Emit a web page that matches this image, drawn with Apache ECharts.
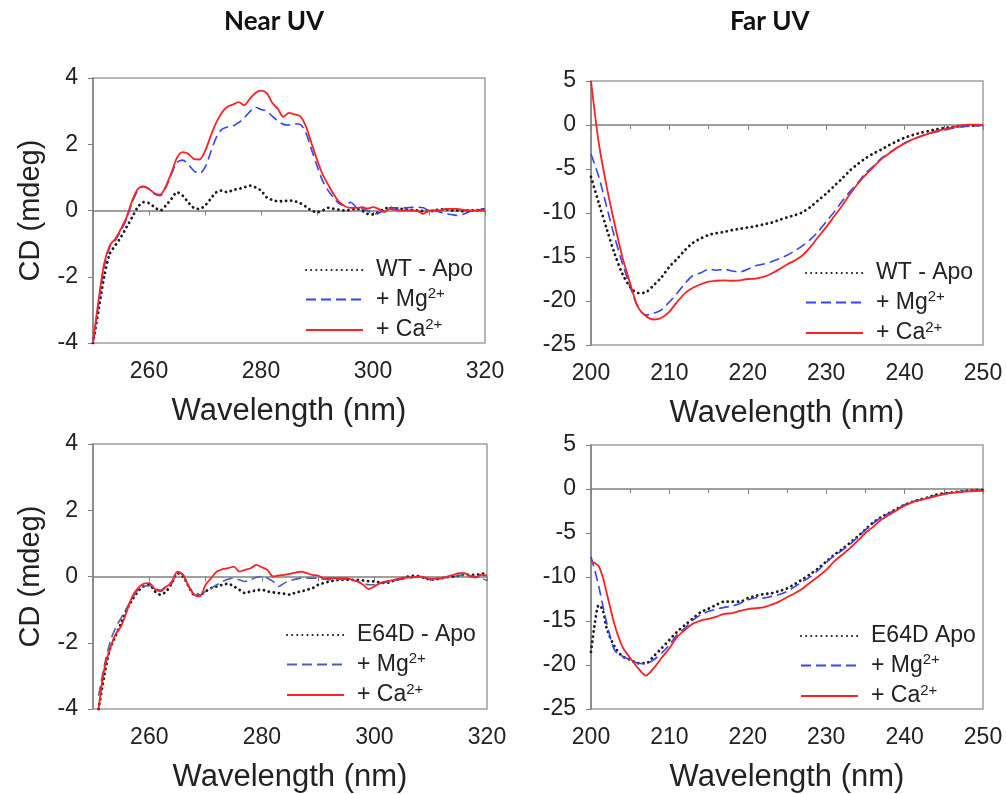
<!DOCTYPE html>
<html>
<head>
<meta charset="utf-8">
<script src="https://cdn.jsdelivr.net/npm/echarts@6/dist/echarts.min.js"></script>
<style>
  html, body { margin: 0; padding: 0; background: #fff; }
  #chart { width: 1006px; height: 794px; }
</style>
</head>
<body>
<div id="chart"></div>
<script>
// ---- Near UV (wavelength 250-320 nm) ----
var nearWtX = [250,251,252,253,254,255,256,257,258,259,260,261,262,263,264,265,266,267,268,269,270,271,272,273,274,275,276,277,278,279,280,281,282,283,284,285,286,287,288,289,290,291,292,293,294,295,296,297,298,299,300,301,302,303,304,305,306,307,308,309,310,311,312,313,314,315,316,317,318,319,320];
var nearWtApo = [-4,-3.0,-2.0,-1.3,-1.05,-0.8,-0.5,-0.2,0.1,0.25,0.22,0.1,0.0,0.15,0.35,0.55,0.45,0.25,0.08,0.05,0.15,0.35,0.55,0.6,0.55,0.62,0.65,0.7,0.75,0.7,0.6,0.4,0.32,0.28,0.28,0.3,0.28,0.22,0.12,0.0,-0.05,0.0,0.08,0.05,0.02,0.0,0.02,0.05,0.0,-0.1,-0.12,-0.05,0.05,0.08,0.06,0.05,0.03,0.02,0.0,-0.02,-0.03,0.0,0.03,0.03,0.0,0.0,-0.02,0.0,0.0,0.02,0.05];
var nearWtMg = [-4,-2.8,-1.7,-1.1,-0.9,-0.6,-0.25,0.25,0.6,0.72,0.65,0.5,0.45,0.7,1.1,1.45,1.52,1.4,1.2,1.12,1.3,1.75,2.2,2.45,2.52,2.55,2.65,2.8,2.98,3.12,3.05,3.0,2.85,2.7,2.6,2.58,2.62,2.6,2.35,1.85,1.35,0.9,0.6,0.38,0.2,0.15,0.25,0.1,0.05,0.0,-0.1,-0.08,0.0,0.08,0.08,0.08,0.08,0.1,0.1,0.08,0.0,0.0,-0.05,-0.1,-0.12,-0.15,-0.12,-0.05,0.0,0.02,0.05];
var nearWtCa = [-4,-2.7,-1.6,-1.05,-0.85,-0.55,-0.2,0.3,0.65,0.73,0.65,0.52,0.48,0.73,1.14,1.59,1.76,1.71,1.56,1.54,1.79,2.24,2.65,2.95,3.13,3.2,3.27,3.18,3.37,3.55,3.62,3.55,3.25,3.07,2.83,2.95,2.9,2.85,2.55,2.04,1.54,1.09,0.78,0.48,0.25,0.13,0.08,0.08,0.1,0.06,0.1,0.05,-0.05,0.05,0.02,0.0,0.0,0.0,-0.02,-0.1,0.0,0.0,0.0,0.05,0.05,0.05,0.02,0.0,0.0,0.0,0.0];

var nearE64X = [251,252,253,254,255,256,257,258,259,260,261,262,263,264,265,266,267,268,269,270,271,272,273,274,275,276,277,278,279,280,281,282,283,284,285,286,287,288,289,290,291,292,293,294,295,296,297,298,299,300,301,302,303,304,305,306,307,308,309,310,311,312,313,314,315,316,317,318,319,320];
var nearE64Apo = [-4,-3.0,-2.2,-1.8,-1.4,-1.0,-0.7,-0.45,-0.3,-0.25,-0.45,-0.55,-0.45,-0.2,0.1,0.0,-0.3,-0.55,-0.55,-0.45,-0.35,-0.3,-0.25,-0.22,-0.3,-0.4,-0.5,-0.45,-0.42,-0.4,-0.45,-0.48,-0.5,-0.52,-0.55,-0.48,-0.45,-0.4,-0.35,-0.25,-0.2,-0.15,-0.12,-0.1,-0.1,-0.1,-0.1,-0.12,-0.14,-0.15,-0.18,-0.2,-0.15,-0.1,-0.05,0.0,0.02,0.0,-0.05,-0.1,-0.08,-0.05,-0.02,0.0,0.03,0.05,0.05,0.05,0.08,0.1];
var nearE64Mg = [-3.6,-2.7,-2.0,-1.55,-1.25,-0.95,-0.65,-0.4,-0.3,-0.28,-0.35,-0.42,-0.3,-0.15,0.12,0.05,-0.3,-0.52,-0.55,-0.45,-0.35,-0.25,-0.15,-0.08,-0.05,-0.1,-0.15,-0.1,-0.02,0.0,-0.05,-0.15,-0.3,-0.2,-0.12,-0.08,-0.05,-0.05,-0.05,-0.05,-0.08,-0.1,-0.1,-0.08,-0.08,-0.1,-0.15,-0.2,-0.25,-0.25,-0.2,-0.18,-0.15,-0.1,-0.08,-0.05,-0.03,-0.02,-0.05,-0.1,-0.08,-0.05,-0.02,0.0,0.03,0.05,0.02,0.0,-0.05,-0.12];
var nearE64Ca = [-4,-2.8,-2.2,-1.75,-1.5,-1.05,-0.6,-0.35,-0.22,-0.2,-0.38,-0.45,-0.3,-0.2,0.15,0.05,-0.3,-0.55,-0.6,-0.25,-0.05,0.15,0.22,0.25,0.3,0.15,0.2,0.25,0.35,0.28,0.2,0.0,0.03,0.05,0.08,0.12,0.15,0.1,0.05,0.03,-0.05,-0.05,-0.05,-0.05,-0.05,-0.1,-0.15,-0.25,-0.38,-0.3,-0.2,-0.15,-0.12,-0.08,-0.05,-0.03,-0.02,0.0,-0.03,-0.08,-0.06,-0.05,0.0,0.05,0.1,0.1,0.0,-0.03,0.05,0.03];

// ---- Far UV (wavelength 200-250 nm) ----
var farWtX = [200,201,202,203,204,205,206,207,208,209,210,211,212,213,214,215,216,217,218,219,220,221,222,223,224,225,226,227,228,229,230,231,232,233,234,235,236,237,238,239,240,241,242,243,244,245,246,247,248,249,250];
var farWtApo = [-5.9,-8.9,-11.8,-14.6,-16.9,-18.4,-19.1,-19.0,-18.2,-17.3,-16.1,-15.2,-14.2,-13.4,-12.9,-12.5,-12.3,-12.15,-11.95,-11.8,-11.65,-11.5,-11.3,-11.1,-10.8,-10.5,-10.25,-9.9,-9.3,-8.55,-7.8,-6.95,-6.1,-5.2,-4.45,-3.8,-3.25,-2.8,-2.3,-1.85,-1.45,-1.15,-0.9,-0.7,-0.5,-0.35,-0.25,-0.15,-0.1,-0.05,0.0];
var farWtMg = [-3.3,-5.9,-9.3,-12.7,-15.7,-18.4,-20.7,-21.6,-21.4,-21.0,-20.1,-19.1,-18.0,-17.1,-16.8,-16.4,-16.5,-16.4,-16.6,-16.7,-16.4,-16.0,-15.8,-15.55,-15.2,-14.8,-14.3,-13.7,-13.0,-12.1,-11.0,-9.9,-8.7,-7.6,-6.6,-5.5,-4.7,-3.8,-3.2,-2.6,-2.05,-1.65,-1.3,-1.0,-0.8,-0.6,-0.4,-0.25,-0.15,-0.1,-0.05];
var farWtCa = [5,-2.1,-7.0,-11.2,-15.0,-18.0,-20.7,-21.7,-22.1,-21.9,-21.2,-20.1,-19.1,-18.5,-18.1,-17.8,-17.7,-17.65,-17.7,-17.65,-17.5,-17.45,-17.25,-16.9,-16.4,-15.85,-15.4,-14.8,-13.85,-12.7,-11.6,-10.4,-9.2,-7.9,-6.7,-5.7,-4.8,-3.9,-3.25,-2.6,-2.1,-1.65,-1.3,-1.0,-0.7,-0.5,-0.3,-0.1,0.05,0.05,0.0];

var farE64X = [200,200.5,201,201.5,202,203,204,205,206,207,208,209,210,211,212,213,214,215,216,217,218,219,220,221,222,223,224,225,226,227,228,229,230,231,232,233,234,235,236,237,238,239,240,241,242,243,244,245,246,247,248,249,250];
var farE64Apo = [-18.5,-15.2,-13.2,-13.7,-15.8,-17.9,-19.0,-19.4,-19.8,-19.8,-19.0,-18.1,-17.15,-16.2,-15.45,-14.7,-14.0,-13.6,-13.15,-12.8,-12.8,-12.8,-12.4,-12.15,-11.95,-11.85,-11.6,-11.3,-10.8,-10.25,-9.65,-9.0,-8.25,-7.5,-6.85,-6.15,-5.4,-4.6,-3.8,-3.2,-2.75,-2.25,-1.8,-1.45,-1.2,-0.95,-0.65,-0.5,-0.4,-0.3,-0.2,-0.15,-0.12];
var farE64Mg = [-7.7,-9.3,-11.1,-13.2,-15.2,-18.3,-19.0,-19.4,-19.8,-19.85,-19.4,-18.65,-17.7,-16.55,-15.8,-14.9,-14.3,-13.9,-13.65,-13.45,-13.3,-13.0,-12.6,-12.35,-12.4,-12.2,-12.0,-11.65,-11.1,-10.5,-9.95,-9.2,-8.35,-7.6,-7.0,-6.3,-5.5,-4.65,-3.9,-3.25,-2.75,-2.3,-1.8,-1.45,-1.25,-1.0,-0.75,-0.55,-0.4,-0.3,-0.2,-0.15,-0.12];
var farE64Ca = [-8.25,-8.4,-8.8,-10.0,-11.8,-15.4,-17.9,-19.2,-20.35,-21.2,-20.35,-19.2,-18.1,-16.8,-16.0,-15.3,-14.95,-14.75,-14.5,-14.2,-14.1,-13.85,-13.65,-13.55,-13.45,-13.15,-12.8,-12.3,-11.85,-11.3,-10.6,-9.95,-9.2,-8.25,-7.5,-6.75,-5.9,-5.0,-4.3,-3.5,-2.95,-2.4,-1.9,-1.5,-1.25,-1.05,-0.8,-0.6,-0.45,-0.35,-0.27,-0.23,-0.22];

// legend texts (series names must be unique, so map them)
var legendText = {
  'WT - Apo': 'WT - Apo', 'WT Mg': '+ Mg{s|2+}', 'WT Ca': '+ Ca{s|2+}',
  'WT far Apo': 'WT - Apo', 'WT far Mg': '+ Mg{s|2+}', 'WT far Ca': '+ Ca{s|2+}',
  'E64D - Apo': 'E64D - Apo', 'E64D Mg': '+ Mg{s|2+}', 'E64D Ca': '+ Ca{s|2+}',
  'E64D Apo': 'E64D Apo', 'E64D far Mg': '+ Mg{s|2+}', 'E64D far Ca': '+ Ca{s|2+}'
};

var font = "'Liberation Sans', Arial, sans-serif";
var grids = [
  { left: 93, top: 78, width: 392, height: 265 },
  { left: 591, top: 81, width: 392, height: 264 },
  { left: 93, top: 444, width: 394, height: 265 },
  { left: 591, top: 445, width: 392, height: 264 }
];
grids.forEach(function (g) {
  g.show = true; g.borderColor = '#a0a0a0'; g.borderWidth = 1.5; g.containLabel = false;
});

function xAx(idx, near) {
  return {
    type: 'value', gridIndex: idx,
    min: near ? 250 : 200, max: near ? 320 : 250, interval: 10,
    name: 'Wavelength (nm)', nameLocation: 'middle', nameGap: 53,
    nameTextStyle: { fontFamily: font, fontSize: 31, color: '#222' },
    axisLine: { show: true, lineStyle: { color: '#808080', width: 1.5 } },
    axisTick: { show: true, inside: false, length: 5, lineStyle: { color: '#808080' } },
    minorTick: { show: !near, splitNumber: 2, length: 4, lineStyle: { color: '#808080' } },
    splitLine: { show: false },
    axisLabel: {
      fontFamily: font, fontSize: 23, color: '#222', margin: 17,
      formatter: function (v) { return near && (v % 20 !== 0) ? '' : String(v); }
    }
  };
}
function yAx(idx, near) {
  return {
    type: 'value', gridIndex: idx,
    min: near ? -4 : -25, max: near ? 4 : 5, interval: near ? 2 : 5,
    name: near ? 'CD (mdeg)' : '', nameLocation: 'middle', nameGap: 48,
    nameTextStyle: { fontFamily: font, fontSize: 29, color: '#222' },
    axisLine: { show: true, lineStyle: { color: '#808080', width: 1.5 } },
    axisTick: { show: true, inside: false, length: 5, lineStyle: { color: '#808080' } },
    splitLine: { show: false },
    axisLabel: { fontFamily: font, fontSize: 23, color: '#222', margin: 15 }
  };
}

function pairs(xs, ys) {
  return xs.map(function (x, i) { return [x, ys[i]]; });
}
function apoSeries(name, idx, xs, ys) {
  return { name: name, type: 'line', xAxisIndex: idx, yAxisIndex: idx, data: pairs(xs, ys),
    symbol: 'none', smooth: 0.3, color: '#1a1a1a',
    lineStyle: { color: '#1a1a1a', width: 2.8, type: [0.1, 5], cap: 'round' } };
}
function mgSeries(name, idx, xs, ys, col) {
  return { name: name, type: 'line', xAxisIndex: idx, yAxisIndex: idx, data: pairs(xs, ys),
    symbol: 'none', smooth: 0.3, color: col,
    lineStyle: { color: col, width: 1.6, type: [10, 5] } };
}
function caSeries(name, idx, xs, ys) {
  return { name: name, type: 'line', xAxisIndex: idx, yAxisIndex: idx, data: pairs(xs, ys),
    symbol: 'none', smooth: 0.3, color: '#ff2020',
    lineStyle: { color: '#ff2020', width: 1.8, type: 'solid' } };
}

function legendAt(left, top, names) {
  return {
    data: names, orient: 'vertical', left: left, top: top,
    itemWidth: 57, itemHeight: 14, itemGap: 3.5, selectedMode: false,
    itemStyle: { opacity: 0 },
    formatter: function (n) { return legendText[n]; },
    textStyle: {
      fontFamily: font, fontSize: 23, color: '#222', lineHeight: 26, padding: [0, 0, 0, 8],
      rich: { s: { fontFamily: font, fontSize: 15, color: '#222', verticalAlign: 'top', lineHeight: 10, padding: [0, 0, 12, 0] } }
    }
  };
}

var titleStyle = { fontFamily: 'Lato, Open Sans, sans-serif', fontWeight: 'bold', fontSize: 26, color: '#111' };
var option = {
  animation: false,
  backgroundColor: '#fff',
  title: [
    { text: 'Near UV', left: 219, top: 4, textStyle: titleStyle },
    { text: 'Far UV', left: 725, top: 4, textStyle: titleStyle }
  ],
  grid: grids,
  xAxis: [xAx(0, true), xAx(1, false), xAx(2, true), xAx(3, false)],
  yAxis: [yAx(0, true), yAx(1, false), yAx(2, true), yAx(3, false)],
  legend: [
    legendAt(300, 252, ['WT - Apo', 'WT Mg', 'WT Ca']),
    legendAt(800, 255, ['WT far Apo', 'WT far Mg', 'WT far Ca']),
    legendAt(281, 617, ['E64D - Apo', 'E64D Mg', 'E64D Ca']),
    legendAt(795, 618, ['E64D Apo', 'E64D far Mg', 'E64D far Ca'])
  ],
  series: [
    apoSeries('WT - Apo', 0, nearWtX, nearWtApo),
    mgSeries('WT Mg', 0, nearWtX, nearWtMg, '#3343f5'),
    caSeries('WT Ca', 0, nearWtX, nearWtCa),
    apoSeries('WT far Apo', 1, farWtX, farWtApo),
    mgSeries('WT far Mg', 1, farWtX, farWtMg, '#3343f5'),
    caSeries('WT far Ca', 1, farWtX, farWtCa),
    apoSeries('E64D - Apo', 2, nearE64X, nearE64Apo),
    mgSeries('E64D Mg', 2, nearE64X, nearE64Mg, '#4a5fb5'),
    caSeries('E64D Ca', 2, nearE64X, nearE64Ca),
    apoSeries('E64D Apo', 3, farE64X, farE64Apo),
    mgSeries('E64D far Mg', 3, farE64X, farE64Mg, '#3343f5'),
    caSeries('E64D far Ca', 3, farE64X, farE64Ca)
  ]
};

var myecharts = echarts.init(document.getElementById('chart'));
myecharts.setOption(option);
</script>
</body>
</html>
